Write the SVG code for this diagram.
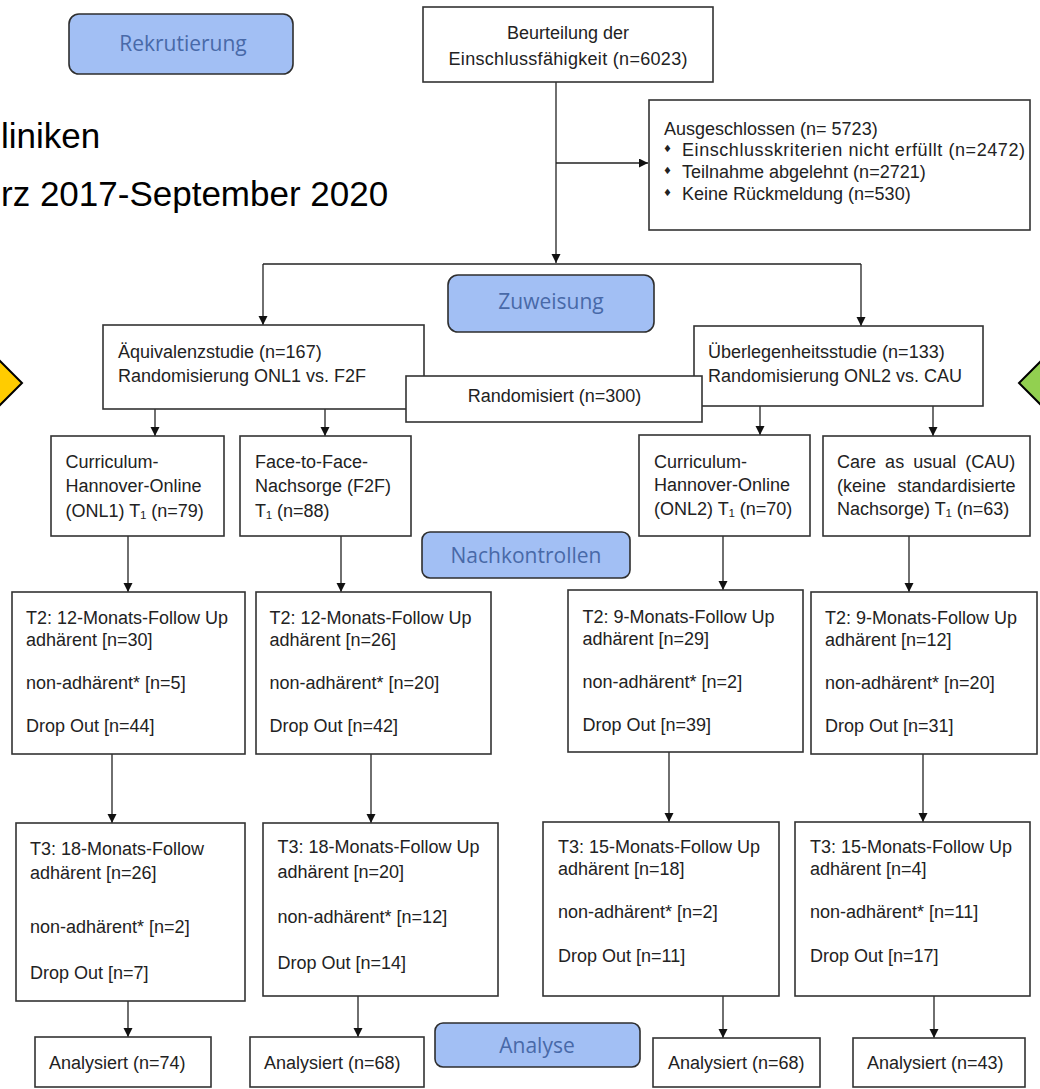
<svg xmlns="http://www.w3.org/2000/svg" width="1040" height="1089" viewBox="0 0 1040 1089">
<defs>
<style>
.box{fill:#fff;stroke:#333;stroke-width:1.6}
.phase{fill:#a2bff4;stroke:#2e2e2e;stroke-width:1.6}
.t{font-family:"Liberation Sans",Arial,sans-serif;font-size:18px;fill:#222}
.ph{font-family:"Open Sans","Noto Sans",sans-serif;font-size:21px;fill:#4869a8;text-anchor:middle}
.big{font-family:"Liberation Sans",Arial,sans-serif;font-size:35px;fill:#000}
.c{text-anchor:middle}
.ln{stroke:#222;stroke-width:1.3;fill:none}
.arr{marker-end:url(#ah)}
.bul{font-family:"DejaVu Sans",sans-serif;font-size:10px;fill:#222}
</style>
<marker id="ah" markerUnits="userSpaceOnUse" markerWidth="10" markerHeight="10" refX="9" refY="4.5" orient="auto">
<path d="M0,0 L9,4.5 L0,9 z" fill="#111"/>
</marker>
</defs>
<rect x="0" y="0" width="1040" height="1089" fill="#fff"/>

<g id="side-text">
<text class="big" x="1" y="148">liniken</text>
<text class="big" x="1" y="206">rz 2017-September 2020</text>
</g>

<g id="marker-left"><polygon points="0,361 22,383 0,405 -22,383" fill="#ffcc00" stroke="#000" stroke-width="2"/></g>
<g id="marker-right"><polygon points="1041,361 1019,383 1041,405 1063,383" fill="#92d050" stroke="#000" stroke-width="2"/></g>

<g id="connectors">
<line class="ln arr" x1="556" y1="82" x2="556" y2="263"/>
<line class="ln arr" x1="556" y1="163" x2="648" y2="163"/>
<line class="ln" x1="263" y1="264" x2="861" y2="264"/>
<line class="ln arr" x1="263" y1="264" x2="263" y2="325"/>
<line class="ln arr" x1="861" y1="264" x2="861" y2="326"/>
<line class="ln arr" x1="155" y1="409" x2="155" y2="436"/>
<line class="ln arr" x1="325" y1="409" x2="325" y2="436"/>
<line class="ln arr" x1="760" y1="406" x2="760" y2="435"/>
<line class="ln arr" x1="933" y1="406" x2="933" y2="436"/>
<line class="ln arr" x1="128" y1="536" x2="128" y2="592"/>
<line class="ln arr" x1="341" y1="536" x2="341" y2="592"/>
<line class="ln arr" x1="723" y1="536" x2="723" y2="590"/>
<line class="ln arr" x1="909" y1="536" x2="909" y2="592"/>
<line class="ln arr" x1="112" y1="754" x2="112" y2="823"/>
<line class="ln arr" x1="371" y1="754" x2="371" y2="823"/>
<line class="ln arr" x1="669" y1="752" x2="669" y2="822"/>
<line class="ln arr" x1="923" y1="754" x2="923" y2="822"/>
<line class="ln arr" x1="128" y1="1001" x2="128" y2="1037"/>
<line class="ln arr" x1="358" y1="996" x2="358" y2="1037"/>
<line class="ln arr" x1="723" y1="996" x2="723" y2="1038"/>
<line class="ln arr" x1="934" y1="996" x2="934" y2="1038"/>
</g>

<g id="rekrutierung"><rect class="phase" x="69" y="14" width="224" height="60" rx="10"/><text class="ph" x="183" y="51">Rekrutierung</text></g>
<g id="zuweisung"><rect class="phase" x="448" y="275" width="206" height="57" rx="10"/><text class="ph" x="551" y="309">Zuweisung</text></g>
<g id="nachkontrollen"><rect class="phase" x="422" y="532" width="208" height="46" rx="8"/><text class="ph" x="526" y="563">Nachkontrollen</text></g>
<g id="analyse"><rect class="phase" x="435" y="1023" width="205" height="44" rx="8"/><text class="ph" x="537" y="1053">Analyse</text></g>

<g id="beurteilung"><rect class="box" x="423" y="7" width="290" height="75"/>
<text class="t c" x="568" y="39">Beurteilung der</text>
<text class="t c" x="568" y="65" textLength="239">Einschlussfähigkeit (n=6023)</text></g>

<g id="ausgeschlossen"><rect class="box" x="649" y="100" width="381" height="130"/>
<text class="t" x="664" y="135">Ausgeschlossen (n= 5723)</text>
<text class="bul" x="663" y="152">♦</text><text class="t" x="682" y="155.5" textLength="343">Einschlusskriterien nicht erfüllt (n=2472)</text>
<text class="bul" x="663" y="174">♦</text><text class="t" x="682" y="177.5">Teilnahme abgelehnt (n=2721)</text>
<text class="bul" x="663" y="196">♦</text><text class="t" x="682" y="199.5">Keine Rückmeldung (n=530)</text></g>

<g id="aequivalenz"><rect class="box" x="103" y="325" width="321" height="84"/>
<text class="t" x="118" y="358">Äquivalenzstudie (n=167)</text>
<text class="t" x="118" y="381.5">Randomisierung ONL1 vs. F2F</text></g>

<g id="ueberlegenheit"><rect class="box" x="694" y="326" width="289" height="80"/>
<text class="t" x="708" y="357.5">Überlegenheitsstudie (n=133)</text>
<text class="t" x="708" y="381.5">Randomisierung ONL2 vs. CAU</text></g>

<g id="randomisiert"><rect class="box" x="406" y="376" width="296" height="46"/>
<text class="t c" x="554.5" y="402">Randomisiert (n=300)</text></g>

<g id="onl1"><rect class="box" x="51" y="436" width="173" height="100"/>
<text class="t" x="65.5" y="468">Curriculum-</text>
<text class="t" x="65.5" y="491.5">Hannover-Online</text>
<text class="t" x="65.5" y="516.5">(ONL1) T₁ (n=79)</text></g>

<g id="f2f"><rect class="box" x="240" y="436" width="171" height="100"/>
<text class="t" x="255" y="468">Face-to-Face-</text>
<text class="t" x="255" y="491.5">Nachsorge (F2F)</text>
<text class="t" x="255" y="516.5">T₁ (n=88)</text></g>

<g id="onl2"><rect class="box" x="639" y="435" width="171" height="101"/>
<text class="t" x="654" y="468">Curriculum-</text>
<text class="t" x="654" y="491">Hannover-Online</text>
<text class="t" x="654" y="515">(ONL2) T₁ (n=70)</text></g>

<g id="cau"><rect class="box" x="823" y="436" width="207" height="100"/>
<text class="t" x="837" y="468" word-spacing="4.1">Care as usual (CAU)</text>
<text class="t" x="837" y="491.5" word-spacing="6.4">(keine standardisierte</text>
<text class="t" x="837" y="515">Nachsorge) T₁ (n=63)</text></g>

<g id="t2-onl1"><rect class="box" x="12" y="592" width="233" height="162"/>
<text class="t" x="26" y="624">T2: 12-Monats-Follow Up</text>
<text class="t" x="26" y="645.5">adhärent [n=30]</text>
<text class="t" x="26" y="689">non-adhärent* [n=5]</text>
<text class="t" x="26" y="732">Drop Out [n=44]</text></g>

<g id="t2-f2f"><rect class="box" x="256" y="592" width="235" height="162"/>
<text class="t" x="269.5" y="624">T2: 12-Monats-Follow Up</text>
<text class="t" x="269.5" y="645.5">adhärent [n=26]</text>
<text class="t" x="269.5" y="689">non-adhärent* [n=20]</text>
<text class="t" x="269.5" y="732">Drop Out [n=42]</text></g>

<g id="t2-onl2"><rect class="box" x="568" y="590" width="235" height="162"/>
<text class="t" x="582.5" y="623">T2: 9-Monats-Follow Up</text>
<text class="t" x="582.5" y="645">adhärent [n=29]</text>
<text class="t" x="582.5" y="688">non-adhärent* [n=2]</text>
<text class="t" x="582.5" y="731">Drop Out [n=39]</text></g>

<g id="t2-cau"><rect class="box" x="811" y="592" width="226" height="162"/>
<text class="t" x="825" y="624">T2: 9-Monats-Follow Up</text>
<text class="t" x="825" y="645.5">adhärent [n=12]</text>
<text class="t" x="825" y="689">non-adhärent* [n=20]</text>
<text class="t" x="825" y="732">Drop Out [n=31]</text></g>

<g id="t3-onl1"><rect class="box" x="16" y="823" width="229" height="178"/>
<text class="t" x="30" y="855">T3: 18-Monats-Follow</text>
<text class="t" x="30" y="879">adhärent [n=26]</text>
<text class="t" x="30" y="933">non-adhärent* [n=2]</text>
<text class="t" x="30" y="979">Drop Out [n=7]</text></g>

<g id="t3-f2f"><rect class="box" x="263" y="823" width="235" height="173"/>
<text class="t" x="277.5" y="853">T3: 18-Monats-Follow Up</text>
<text class="t" x="277.5" y="878">adhärent [n=20]</text>
<text class="t" x="277.5" y="923">non-adhärent* [n=12]</text>
<text class="t" x="277.5" y="969">Drop Out [n=14]</text></g>

<g id="t3-onl2"><rect class="box" x="543" y="822" width="236" height="174"/>
<text class="t" x="558" y="853">T3: 15-Monats-Follow Up</text>
<text class="t" x="558" y="875">adhärent [n=18]</text>
<text class="t" x="558" y="918">non-adhärent* [n=2]</text>
<text class="t" x="558" y="961.5">Drop Out [n=11]</text></g>

<g id="t3-cau"><rect class="box" x="795" y="822" width="235" height="174"/>
<text class="t" x="810" y="853">T3: 15-Monats-Follow Up</text>
<text class="t" x="810" y="875">adhärent [n=4]</text>
<text class="t" x="810" y="918">non-adhärent* [n=11]</text>
<text class="t" x="810" y="961.5">Drop Out [n=17]</text></g>

<g id="analysiert-onl1"><rect class="box" x="35" y="1037" width="176" height="50"/>
<text class="t" x="49" y="1069">Analysiert (n=74)</text></g>
<g id="analysiert-f2f"><rect class="box" x="250" y="1037" width="174" height="50"/>
<text class="t" x="264" y="1069">Analysiert (n=68)</text></g>
<g id="analysiert-onl2"><rect class="box" x="653" y="1038" width="167" height="49"/>
<text class="t" x="668" y="1069">Analysiert (n=68)</text></g>
<g id="analysiert-cau"><rect class="box" x="853" y="1038" width="172" height="49"/>
<text class="t" x="867" y="1069">Analysiert (n=43)</text></g>
</svg>
